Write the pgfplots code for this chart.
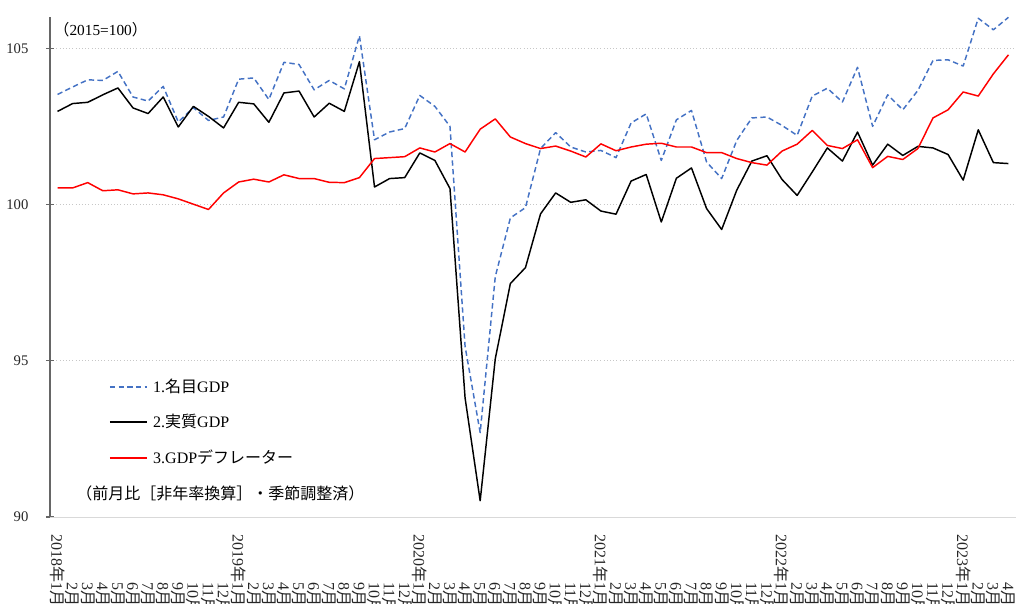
\documentclass[border=0pt]{standalone}
\usepackage{fontspec}
\setmainfont{Liberation Serif}
\newfontfamily\cjk{Noto Sans CJK JP}
\usepackage{pgfplots}
\usepackage{pgfplotstable}
\pgfplotsset{compat=1.18}
\usetikzlibrary{calc}
\definecolor{nomblue}{HTML}{4472C4}
\newcommand{\M}[1]{#1{\cjk 月}}
\newcommand{\Y}[1]{\llap{#1{\cjk 年}}1{\cjk 月}}

\pgfplotstableread{
i nom real defl
0 103.52 102.98 100.53
1 103.76 103.23 100.53
2 103.99 103.27 100.70
3 103.97 103.51 100.44
4 104.26 103.73 100.47
5 103.44 103.09 100.34
6 103.31 102.91 100.37
7 103.78 103.44 100.31
8 102.64 102.48 100.18
9 103.10 103.14 100.01
10 102.69 102.82 99.84
11 102.80 102.45 100.37
12 104.01 103.27 100.72
13 104.05 103.22 100.81
14 103.36 102.63 100.72
15 104.55 103.57 100.95
16 104.48 103.63 100.83
17 103.67 102.80 100.83
18 103.97 103.24 100.71
19 103.70 102.98 100.70
20 105.40 104.57 100.86
21 102.07 100.56 101.47
22 102.32 100.83 101.50
23 102.43 100.86 101.53
24 103.49 101.65 101.81
25 103.14 101.41 101.68
26 102.50 100.51 101.95
27 95.46 93.81 101.68
28 92.70 90.52 102.41
29 97.69 95.06 102.74
30 99.57 97.47 102.16
31 99.90 97.98 101.95
32 101.79 99.70 101.79
33 102.30 100.37 101.87
34 101.84 100.07 101.71
35 101.68 100.15 101.52
36 101.73 99.79 101.94
37 101.50 99.69 101.72
38 102.61 100.75 101.84
39 102.90 100.96 101.93
40 101.41 99.44 101.96
41 102.71 100.84 101.84
42 103.01 101.17 101.84
43 101.36 99.87 101.66
44 100.83 99.20 101.66
45 102.05 100.46 101.47
46 102.77 101.39 101.34
47 102.80 101.56 101.26
48 102.53 100.80 101.71
49 102.21 100.29 101.93
50 103.47 101.04 102.37
51 103.72 101.81 101.89
52 103.28 101.39 101.79
53 104.39 102.32 102.07
54 102.50 101.26 101.18
55 103.51 101.93 101.54
56 103.03 101.57 101.44
57 103.65 101.86 101.79
58 104.61 101.81 102.77
59 104.63 101.60 103.03
60 104.43 100.78 103.60
61 105.96 102.39 103.47
62 105.59 101.34 104.18
63 105.99 101.31 104.79
}\gdp

\begin{document}
\begin{tikzpicture}
\begin{axis}[
  name=ax,
  width=724.5pt, height=375pt, scale only axis,
  xmin=-0.5, xmax=63.5, ymin=90, ymax=106,
  axis x line*=bottom, axis y line*=left,
  x axis line style={draw=black!15, line width=0.75pt},
  y axis line style={draw=black!60, line width=1pt},
  ytick={90,95,100,105},
  ymajorgrids, major grid style={draw=black!22, dotted, line width=0.6pt},
  ytick style={draw=black!60, line width=0.8pt},
  tick align=center, major tick length=6pt,
  xtick={0,...,63}, xtick style={draw=none},
  xticklabels={\Y{2018},\M2,\M3,\M4,\M5,\M6,\M7,\M8,\M9,\M{10},\M{11},\M{12},
               \Y{2019},\M2,\M3,\M4,\M5,\M6,\M7,\M8,\M9,\M{10},\M{11},\M{12},
               \Y{2020},\M2,\M3,\M4,\M5,\M6,\M7,\M8,\M9,\M{10},\M{11},\M{12},
               \Y{2021},\M2,\M3,\M4,\M5,\M6,\M7,\M8,\M9,\M{10},\M{11},\M{12},
               \Y{2022},\M2,\M3,\M4,\M5,\M6,\M7,\M8,\M9,\M{10},\M{11},\M{12},
               \Y{2023},\M2,\M3,\M4},
  xticklabel style={rotate=-90, anchor=west, inner sep=0pt, font=\fontsize{12}{13}\selectfont, text=black!85},
  xticklabel shift=45.75pt,
  yticklabel style={anchor=east, inner sep=0pt, font=\fontsize{11}{12}\selectfont, text=black!85},
  yticklabel shift=13pt,
  /pgf/number format/assume math mode=true,
  clip mode=individual,
  legend image post style={xscale=1.625, line width=1.5pt},
  legend style={at={(rel axis cs:0.0607,0.282)}, anchor=north west, draw=none, fill=none,
    inner sep=0pt, row sep=11pt, column sep=2pt, font=\fontsize{12}{13}\selectfont},
  legend cell align=left,
]
\addplot[color=nomblue, line width=1.1pt, dash pattern=on 4pt off 2.5pt, line join=round] table[x=i,y=nom]{\gdp};
\addlegendentry{1.{\cjk 名目}GDP}
\addplot[color=black, line width=1.1pt, line join=round] table[x=i,y=real]{\gdp};
\addlegendentry{2.{\cjk 実質}GDP}
\addplot[color=red, line width=1.1pt, line join=round] table[x=i,y=defl]{\gdp};
\addlegendentry{3.GDP{\cjk デフレーター}}
\node[anchor=west, inner sep=0pt, font=\fontsize{11.5}{12}\selectfont] at (rel axis cs:0.0041,0.974) {{\cjk （}2015=100{\cjk ）}};
\node[anchor=west, inner sep=0pt, font=\fontsize{12}{13}\selectfont\cjk] at (rel axis cs:0.0269,0.048) {（前月比［非年率換算］・季節調整済）};
\end{axis}
\pgfresetboundingbox
\path[use as bounding box] ($(ax.south west)+(-37.5pt,-64.5pt)$) rectangle ($(ax.north east)+(0pt,12.75pt)$);
\end{tikzpicture}
\end{document}
